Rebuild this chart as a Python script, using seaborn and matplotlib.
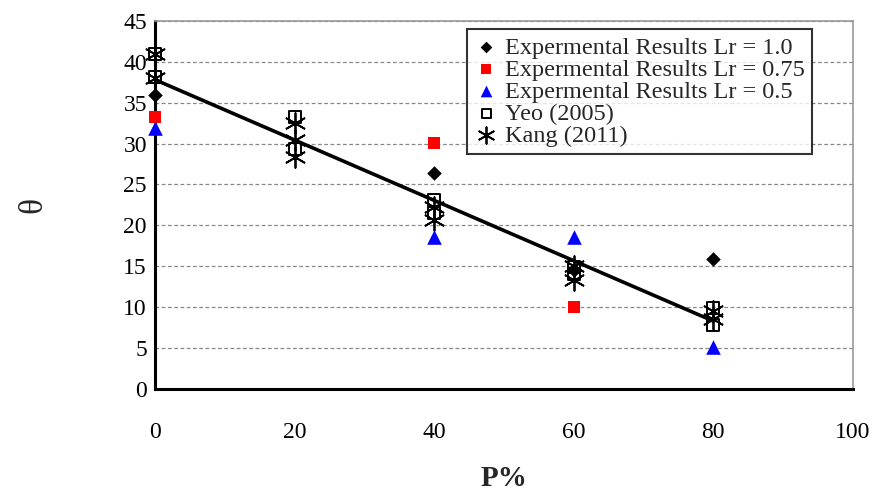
import matplotlib
matplotlib.use("Agg")
import matplotlib.pyplot as plt
import seaborn as sns
import pandas as pd

# Data
exp10_x = [0, 40, 80, 60]
exp10_y = [35.9, 26.4, 15.9, 14.5]
exp075_x = [0, 40, 60]
exp075_y = [33.2, 30.1, 10.0]
exp05_x = [0, 40, 60, 80]
exp05_y = [31.9, 18.6, 18.6, 5.1]
yeo_x = [0, 0, 20, 20, 40, 40, 60, 60, 80, 80]
yeo_y = [40.9, 38.1, 33.3, 29.3, 23.1, 21.5, 14.9, 14.0, 9.9, 7.8]
kang_x = [0, 0, 20, 20, 20, 40, 40, 60, 60, 80, 80]
kang_y = [41.0, 38.0, 32.5, 30.5, 28.4, 22.3, 20.7, 15.0, 13.3, 9.5, 8.5]
fit_x = [0, 80]
fit_y = [37.8, 8.3]
xticks = [0, 20, 40, 60, 80, 100]
yticks = [0, 5, 10, 15, 20, 25, 30, 35, 40, 45]

sns.set_style("white")
plt.rcParams['font.family'] = ['Liberation Serif', 'DejaVu Serif']

fig = plt.figure(figsize=(8.72, 4.98), dpi=100)
ax = fig.add_axes([0.178, 0.219, 0.800, 0.739])

ax.set_xlim(0, 100)
ax.set_ylim(0, 45)
for v in yticks[1:]:
    ax.axhline(v, color='#888888', lw=0.9, ls=(0, (3, 2)), zorder=0)

sns.lineplot(x=fit_x, y=fit_y, ax=ax, color='black', lw=2.6, zorder=2, legend=False)

ms = 75
sns.scatterplot(x=exp10_x, y=exp10_y, ax=ax, marker='D', color='black', s=55,
                edgecolor='black', linewidth=0, label='Expermental Results Lr = 1.0',
                zorder=4, clip_on=False)
sns.scatterplot(x=exp075_x, y=exp075_y, ax=ax, marker='s', color='red', s=ms,
                edgecolor='red', linewidth=0, label='Expermental Results Lr = 0.75',
                zorder=4, clip_on=False)
sns.scatterplot(x=exp05_x, y=exp05_y, ax=ax, marker='^', color='blue', s=110,
                edgecolor='blue', linewidth=0, label='Expermental Results Lr = 0.5',
                zorder=4, clip_on=False)
sns.scatterplot(x=yeo_x, y=yeo_y, ax=ax, marker='s', s=ms, facecolor='none',
                edgecolor='black', linewidth=1.4, label='Yeo (2005)', zorder=3,
                clip_on=False)
sns.scatterplot(x=kang_x, y=kang_y, ax=ax, marker=(6, 2, 0), s=220, color='black',
                edgecolor='black', linewidth=1.3, label='Kang (2011)', zorder=3,
                clip_on=False)

ax.set_xticks(xticks)
ax.set_yticks(yticks)
ax.tick_params(axis='both', direction='in', length=7, width=1.2, labelsize=17, colors='black')
ax.tick_params(axis='x', pad=24)
ax.tick_params(axis='y', pad=6)
ax.tick_params(axis='both', which='both', top=False, right=False)

for s in ['left', 'bottom']:
    ax.spines[s].set_color('black')
    ax.spines[s].set_linewidth(2.2)
for s in ['top', 'right']:
    ax.spines[s].set_color('#999999')
    ax.spines[s].set_linewidth(1.2)

ax.set_xlabel('P%', fontsize=21, fontweight='bold', labelpad=16)
ax.set_ylabel('θ', fontsize=24, labelpad=54)

leg = ax.legend(loc='upper left', bbox_to_anchor=(0.44, 0.99), fontsize=17.5,
                frameon=True, fancybox=False, edgecolor='black', borderpad=0.3,
                labelspacing=0.0, handletextpad=0.25, handlelength=1.0,
                borderaxespad=0.2, markerscale=0.8)
leg.get_frame().set_linewidth(1.5)
leg.set_zorder(10)

fig.savefig('out.png', dpi=100)
